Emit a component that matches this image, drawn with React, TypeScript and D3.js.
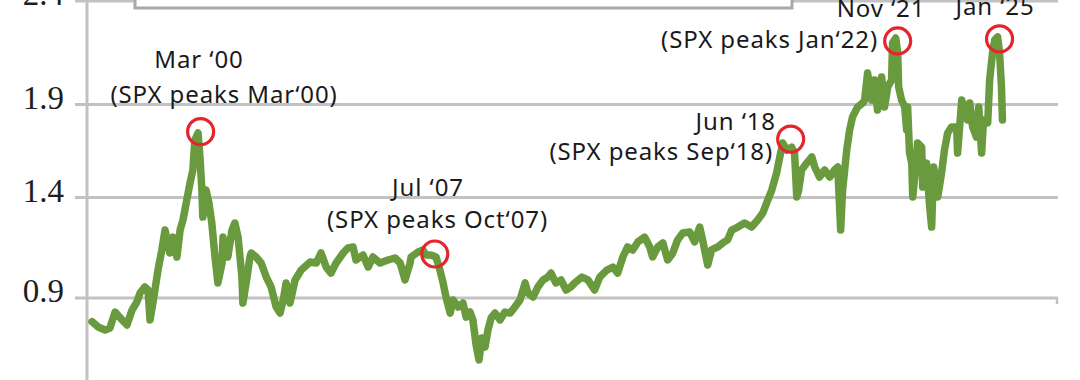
import React from "react";
import * as d3 from "d3";

// decimal years
const years = [
  1996.75, 1996.94, 1997.16, 1997.31, 1997.47, 1997.69, 1997.84, 1998.0, 1998.15, 1998.25,
  1998.4, 1998.5, 1998.56, 1998.65, 1998.81, 1998.93, 1999.03, 1999.18, 1999.28, 1999.4,
  1999.5, 1999.59, 1999.71, 1999.81, 1999.9, 1999.96, 2000.06, 2000.12, 2000.18, 2000.21,
  2000.31, 2000.4, 2000.49, 2000.59, 2000.68, 2000.81, 2000.84, 2000.99, 2001.12, 2001.21,
  2001.31, 2001.43, 2001.46, 2001.59, 2001.68, 2001.72, 2001.87, 2002.03, 2002.19, 2002.34,
  2002.5, 2002.62, 2002.72, 2002.81, 2002.93, 2003.09, 2003.28, 2003.56, 2003.75, 2003.9,
  2004.06, 2004.21, 2004.37, 2004.59, 2004.74, 2004.9, 2004.99, 2005.21, 2005.37, 2005.52,
  2005.74, 2005.99, 2006.21, 2006.37, 2006.52, 2006.68, 2006.71, 2006.93, 2007.08, 2007.18,
  2007.33, 2007.49, 2007.61, 2007.71, 2007.8, 2007.93, 2008.02, 2008.18, 2008.33, 2008.43,
  2008.55, 2008.64, 2008.74, 2008.83, 2008.92, 2009.02, 2009.11, 2009.21, 2009.33, 2009.49,
  2009.64, 2009.8, 2009.95, 2010.11, 2010.27, 2010.36, 2010.52, 2010.67, 2010.83, 2010.98,
  2011.08, 2011.23, 2011.39, 2011.55, 2011.7, 2011.82, 2012.04, 2012.23, 2012.44, 2012.6,
  2012.82, 2013.01, 2013.16, 2013.32, 2013.47, 2013.63, 2013.79, 2014.0, 2014.16, 2014.25,
  2014.41, 2014.57, 2014.72, 2014.88, 2015.03, 2015.19, 2015.41, 2015.56, 2015.72, 2015.81,
  2015.97, 2016.09, 2016.28, 2016.44, 2016.59, 2016.72, 2016.91, 2017.12, 2017.34, 2017.53,
  2017.69, 2017.81, 2017.97, 2018.12, 2018.22, 2018.31, 2018.44, 2018.59, 2018.68, 2018.75,
  2018.81, 2018.9, 2019.06, 2019.22, 2019.31, 2019.46, 2019.62, 2019.78, 2019.93, 2020.03,
  2020.12, 2020.18, 2020.31, 2020.4, 2020.49, 2020.65, 2020.81, 2020.87, 2020.96, 2021.09,
  2021.18, 2021.27, 2021.4, 2021.49, 2021.59, 2021.71, 2021.74, 2021.84, 2021.9, 2021.93,
  2022.02, 2022.12, 2022.18, 2022.21, 2022.27, 2022.34, 2022.37, 2022.46, 2022.52, 2022.65,
  2022.68, 2022.8, 2022.9, 2022.96, 2023.02, 2023.08, 2023.15, 2023.27, 2023.36, 2023.46,
  2023.58, 2023.74, 2023.77, 2023.9, 2023.99, 2024.08, 2024.15, 2024.24, 2024.36, 2024.43,
  2024.52, 2024.58, 2024.71, 2024.77, 2024.86, 2024.93, 2025.02, 2025.08, 2025.14, 2025.17,
];

const ratio = [
  0.782, 0.756, 0.741, 0.751, 0.83, 0.791, 0.766, 0.84, 0.88, 0.925,
  0.955, 0.94, 0.791, 0.875, 1.039, 1.139, 1.238, 1.124, 1.203, 1.104,
  1.238, 1.288, 1.388, 1.478, 1.548, 1.709, 1.747, 1.618, 1.44, 1.303,
  1.44, 1.373, 1.273, 1.104, 0.975, 1.074, 1.203, 1.104, 1.238, 1.273,
  1.203, 1.004, 0.875, 1.004, 1.104, 1.124, 1.104, 1.074, 1.004, 0.955,
  0.855, 0.825, 0.89, 0.975, 0.875, 0.99, 1.039, 1.079, 1.074, 1.124,
  1.054, 1.024, 1.074, 1.124, 1.149, 1.154, 1.089, 1.114, 1.054, 1.104,
  1.074, 1.089, 1.099, 1.074, 0.99, 1.074, 1.104, 1.129, 1.139, 1.114,
  1.114, 1.104, 1.039, 0.975, 0.905, 0.825, 0.89, 0.855, 0.875, 0.805,
  0.83, 0.791, 0.666, 0.592, 0.701, 0.656, 0.741, 0.801, 0.825, 0.791,
  0.83, 0.825, 0.855, 0.89, 0.975, 0.925, 0.905, 0.955, 0.99, 1.004,
  1.024, 0.975, 0.99, 0.94, 0.955, 0.975, 1.004, 0.99, 0.94, 1.004,
  1.039, 1.054, 1.024, 1.104, 1.154, 1.139, 1.179, 1.203, 1.154, 1.104,
  1.154, 1.174, 1.089, 1.124, 1.189, 1.223, 1.228, 1.179, 1.253, 1.189,
  1.064, 1.139, 1.154, 1.174, 1.189, 1.238, 1.253, 1.273, 1.253, 1.288,
  1.323, 1.373, 1.44, 1.532, 1.618, 1.693, 1.655, 1.671, 1.639, 1.403,
  1.44, 1.548, 1.585, 1.618, 1.564, 1.51, 1.548, 1.51, 1.548, 1.564,
  1.238, 1.44, 1.655, 1.763, 1.833, 1.887, 1.907, 1.922, 2.052, 1.922,
  2.018, 1.87, 2.033, 1.887, 1.985, 2.018, 2.197, 2.221, 2.149, 1.985,
  1.922, 1.887, 1.763, 1.887, 1.639, 1.585, 1.403, 1.564, 1.693, 1.671,
  1.456, 1.585, 1.353, 1.253, 1.564, 1.51, 1.403, 1.532, 1.655, 1.747,
  1.779, 1.779, 1.639, 1.922, 1.854, 1.817, 1.907, 1.779, 1.725, 1.887,
  1.639, 1.817, 1.801, 2.018, 2.149, 2.212, 2.226, 2.149, 1.985, 1.817,
];

const yTicks = [0.4, 0.9, 1.4, 1.9, 2.4];
const yTickLabels = ["0.4", "0.9", "1.4", "1.9", "2.4"];

// annotated peaks
const peakYears = [2000.14, 2007.45, 2018.56, 2021.9, 2025.08];
const peakValues = [1.754, 1.119, 1.714, 2.207, 2.217];
const peakLabels = ["Mar \u201800", "Jul \u201807", "Jun \u201818", "Nov \u201821", "Jan \u201825"];
const spxLabels = [
  "(SPX peaks Mar\u201800)",
  "(SPX peaks Oct\u201807)",
  "(SPX peaks Sep\u201818)",
  "(SPX peaks Jan\u201822)",
  "",
];

// label layout (pixels): [line1 x, line1 y, line1 anchor, line2 x, line2 y, line2 anchor]
const labelLayout: [number, number, string, number, number, string][] = [
  [199, 68, "middle", 224, 103, "middle"],
  [428, 196, "middle", 437.5, 228, "middle"],
  [776, 130, "end", 773, 160, "end"],
  [881, 17, "middle", 878, 48, "end"],
  [995, 15, "middle", 0, 0, "middle"],
];

export default function App() {
  const W = 1080;
  const H = 380;
  const x = d3.scaleLinear().domain([1996.75, 2025.25]).range([92, 1005]);
  const y = d3
    .scaleLinear()
    .domain([0.4, 0.9, 1.4, 1.9, 2.4])
    .range([398.5, 298, 197.5, 104.5, 1]);

  const pts = years.map((t, i) => [t, ratio[i]] as [number, number]);
  const line = d3
    .line<[number, number]>()
    .x((d) => x(d[0]))
    .y((d) => y(d[1]));

  const sans = "'Noto Sans', 'Open Sans', sans-serif";
  const serif = "'Liberation Serif', 'DejaVu Serif', serif";
  const grid = "#c2c2c2";

  return (
    <svg
      width={W}
      height={H}
      style={{ position: "absolute", left: 0, top: 0, background: "#fff" }}
    >
      <rect x={0} y={0} width={W} height={H} fill="#fff" />
      {/* gridlines */}
      {yTicks.map((v) => (
        <line key={v} x1={75} x2={1058} y1={y(v)} y2={y(v)} stroke={grid} strokeWidth={3} />
      ))}
      <line x1={1057} x2={1057} y1={y(0.9)} y2={y(0.9) + 6} stroke={grid} strokeWidth={2.5} />
      {/* axis */}
      <line x1={87} x2={87} y1={-5} y2={H + 5} stroke={grid} strokeWidth={3} />
      {yTicks.map((v, i) => (
        <text
          key={"l" + v}
          x={64}
          y={y(v) + 4}
          textAnchor="end"
          fontFamily={serif}
          fontSize={33}
          fill="#1e1e1e"
        >
          {yTickLabels[i]}
        </text>
      ))}
      {/* legend box (cut off) */}
      <rect x={135} y={-60} width={657} height={68} fill="#fff" stroke="#a8a8a8" strokeWidth={3} />
      {/* series */}
      <path
        d={line(pts) || ""}
        fill="none"
        stroke="#6a9a3e"
        strokeWidth={7.5}
        strokeLinejoin="round"
        strokeLinecap="round"
      />
      {/* annotations */}
      {peakYears.map((t, i) => (
        <circle
          key={"c" + i}
          cx={x(t)}
          cy={y(peakValues[i])}
          r={13}
          fill="none"
          stroke="#e5242b"
          strokeWidth={3.2}
        />
      ))}
      {labelLayout.map((L, i) => (
        <g key={"t" + i} fontFamily={sans} fontSize={24} letterSpacing={0.9} fill="#1a1a1a">
          <text x={L[0]} y={L[1]} textAnchor={L[2]}>
            {peakLabels[i]}
          </text>
          {spxLabels[i] && (
            <text x={L[3]} y={L[4]} textAnchor={L[5]}>
              {spxLabels[i]}
            </text>
          )}
        </g>
      ))}
    </svg>
  );
}
